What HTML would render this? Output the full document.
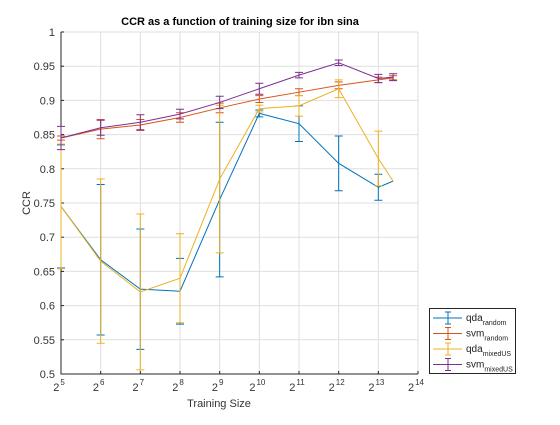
<!DOCTYPE html>
<html><head><meta charset="utf-8"><style>
body{margin:0;background:#fff;}
svg text{font-family:"Liberation Sans",sans-serif;}
</style></head><body>
<svg id="chart" width="560" height="420" xmlns="http://www.w3.org/2000/svg">
<rect width="560" height="420" fill="#fff"/>
<g id="grid"></g>
<g id="axes"></g>
<g id="series"></g>
<text x="240" y="25" text-anchor="middle" font-size="11" font-weight="bold" fill="#000">CCR as a function of training size for ibn sina</text>
<text x="219" y="407" text-anchor="middle" font-size="11" fill="#333">Training Size</text>
<text transform="translate(30,203) rotate(-90)" text-anchor="middle" font-size="11" fill="#333">CCR</text>
<g id="legend"></g>
</svg>
<script>
const xs = [32,64,128,256,512,1024,2048,4096,8192,10600];
const xTickExp = [5,6,7,8,9,10,11,12,13,14];
const yTicks = [0.5,0.55,0.6,0.65,0.7,0.75,0.8,0.85,0.9,0.95,1];
const yTickLabels = ["0.5","0.55","0.6","0.65","0.7","0.75","0.8","0.85","0.9","0.95","1"];
const qdaRandom = [0.745,0.667,0.624,0.621,0.755,0.881,0.866,0.808,0.773,0.782];
const qdaRandomErr = [0.09,0.11,0.088,0.048,0.113,0.005,0.026,0.04,0.019,0];
const svmRandom = [0.845,0.858,0.864,0.875,0.889,0.902,0.912,0.922,0.930,0.933];
const svmRandomErr = [0.003,0.014,0.008,0.007,0.007,0.005,0.005,0.005,0.004,0.003];
const qdaMixed = [0.745,0.665,0.620,0.640,0.785,0.888,0.892,0.917,0.815,0.782];
const qdaMixedErr = [0.091,0.12,0.114,0.065,0.108,0.005,0.015,0.013,0.04,0];
const svmMixed = [0.845,0.860,0.868,0.880,0.897,0.917,0.937,0.955,0.932,0.934];
const svmMixedErr = [0.017,0.011,0.011,0.007,0.009,0.008,0.004,0.004,0.006,0.005];

const L=61,R=418,T=32,B=374;
const xScale=v=>L+(Math.log2(v)-5)/9*(R-L);
const yScale=v=>B-(v-0.5)/0.5*(B-T);
const NS="http://www.w3.org/2000/svg";
function mk(tag,attrs,parent){const e=document.createElementNS(NS,tag);for(const k in attrs)e.setAttribute(k,attrs[k]);parent.appendChild(e);return e;}
const grid=document.getElementById('grid'),axes=document.getElementById('axes'),ser=document.getElementById('series'),leg=document.getElementById('legend');
xTickExp.forEach(p=>{const x=xScale(Math.pow(2,p));
 const g=mk('line',{x1:x,x2:x,y1:T,y2:B,stroke:'#dfdfdf','stroke-width':1},grid);
 
 
 const t=mk('text',{x:x-2,y:B+17,'text-anchor':'middle','font-size':11,fill:'#333'},axes);
 
 
 t.textContent='2';
 const s=mk('tspan',{dy:-6,'font-size':8,dx:1},t);s.textContent=p;
 mk('line',{x1:x,x2:x,y1:B,y2:B-3,stroke:'#262626'},axes);
});
yTicks.forEach((v,i)=>{const y=yScale(v);
 const g=mk('line',{x1:L,x2:R,y1:y,y2:y,stroke:'#dfdfdf','stroke-width':1},grid);
 
 
 const t=mk('text',{x:L-6,y:y+4,'text-anchor':'end','font-size':11,fill:'#333'},axes);
 
 
 t.textContent=yTickLabels[i];
 mk('line',{x1:L,x2:L+3,y1:y,y2:y,stroke:'#262626'},axes);
});
mk('path',{d:`M${L},${T}V${B}H${R}`,fill:'none',stroke:'#262626','stroke-width':1},axes);
const defs=[
 {name:'qda-random',vals:qdaRandom,err:qdaRandomErr,c:'#0072bd',label:'qda',sub:'random'},
 {name:'svm-random',vals:svmRandom,err:svmRandomErr,c:'#d95319',label:'svm',sub:'random'},
 {name:'qda-mixedus',vals:qdaMixed,err:qdaMixedErr,c:'#edb120',label:'qda',sub:'mixedUS'},
 {name:'svm-mixedus',vals:svmMixed,err:svmMixedErr,c:'#7e2f8e',label:'svm',sub:'mixedUS'}];
defs.forEach((d,si)=>{
 const g=mk('g',{},ser);
 
 
 const pts=d.vals.map((v,i)=>xScale(xs[i])+','+yScale(v)).join(' ');
 const pl=mk('polyline',{points:pts,fill:'none',stroke:d.c,'stroke-width':1},g);
 
 
 d.vals.forEach((v,i)=>{if(!d.err[i])return;const x=xScale(xs[i]),y1=yScale(v-d.err[i]),y2=yScale(v+d.err[i]);
  const eb=mk('path',{d:`M${x},${y1}V${y2}M${x-4},${y1}H${x+4}M${x-4},${y2}H${x+4}`,stroke:d.c,fill:'none','stroke-width':1},g);
  
  
 });
 const ly=318+si*15.5;
 const le=mk('g',{},leg);
 
 
 mk('path',{d:`M433,${ly}H462M448,${ly-6}V${ly+6}M445,${ly-6}H451M445,${ly+6}H451`,stroke:d.c,fill:'none'},le);
 const t=mk('text',{x:466,y:ly+3,'font-size':10,fill:'#222'},le);t.textContent=d.label;
 const s=mk('tspan',{dy:4,'font-size':7},t);s.textContent=d.sub;
});
const lb=mk('rect',{x:429.5,y:308.5,width:86,height:65,fill:'none',stroke:'#262626'},leg);


</script>
</body></html>
